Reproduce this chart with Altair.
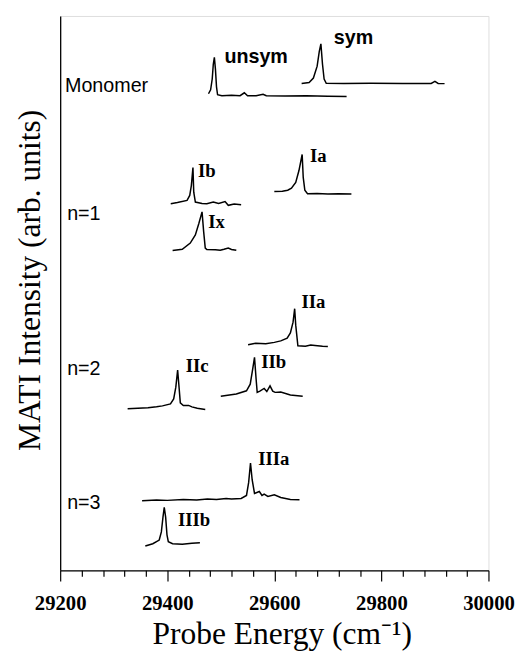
import altair as alt
import pandas as pd

# ---- spectra: (probe energy cm-1, intensity arb.) ----
mono_unsym_E = [29477, 29481, 29484, 29486, 29488, 29490, 29492, 29494, 29502, 29520, 29536, 29544, 29550, 29566, 29579, 29585, 29620, 29660, 29700, 29735]
mono_unsym_I = [484, 488, 499, 514, 521, 509, 491, 483, 482, 482.5, 482, 485, 482, 482, 483.5, 482, 481.8, 482, 481.5, 481.3]

mono_sym_E = [29651, 29665, 29673, 29680, 29684, 29687, 29690, 29693, 29697, 29730, 29780, 29840, 29893, 29900, 29906, 29918]
mono_sym_I = [494.5, 495.5, 500, 512, 527, 534.7, 514, 499, 494.7, 494.5, 494.7, 494.5, 494.5, 496.5, 494.5, 494.3]

Ia_E = [29600, 29615, 29625, 29632, 29640, 29646, 29652, 29654, 29657, 29662, 29680, 29700, 29720, 29744]
Ia_I = [384.7, 385, 386, 388, 394, 406, 422.3, 399, 386, 382.5, 382.8, 382.3, 382.5, 382.3]

Ib_E = [29406.5, 29419, 29437, 29442, 29445, 29448, 29449.5, 29452.5, 29465, 29474, 29486, 29496, 29508, 29514, 29525, 29538]
Ib_I = [372.3, 373.5, 375.7, 380.7, 390.7, 409, 384, 374, 372.5, 372.3, 374, 372.5, 374.5, 370.7, 372, 371.3]

Ix_E = [29410, 29428, 29443, 29452.5, 29459, 29465, 29468, 29471, 29474, 29490, 29499, 29506, 29514, 29520, 29529]
Ix_I = [324.7, 326, 332.3, 340.7, 352.3, 364, 344, 327.3, 325.7, 325.5, 325, 326, 327.3, 325.8, 325]

IIa_E = [29551, 29565, 29584, 29600, 29612, 29624, 29630, 29635, 29638, 29640, 29644, 29658, 29668, 29676, 29690, 29700]
IIa_I = [229, 230.5, 230, 231.5, 233, 235.7, 241, 252, 265.7, 249, 228, 227.5, 228.8, 228.3, 227.5, 227.3]

IIb_E = [29500, 29529, 29548, 29555, 29559.5, 29563, 29566, 29568, 29573, 29581, 29586, 29592, 29597, 29601.5, 29612, 29630, 29653]
IIb_I = [176.7, 179, 182.3, 189, 204, 216.3, 194, 180.7, 182, 184.7, 181.5, 187.3, 182, 180.7, 181, 178, 176.7]

IIc_E = [29326, 29345, 29364, 29380, 29391, 29406, 29412, 29416, 29419.4, 29421.6, 29424.4, 29430, 29440, 29446, 29456, 29471]
IIc_I = [164, 164.5, 165, 166, 167, 169, 174, 186, 203.3, 189, 170, 167.3, 167.5, 166, 164.5, 163.3]

IIIa_E = [29353, 29380, 29400, 29430, 29455, 29475, 29492, 29510, 29520, 29538, 29548, 29552, 29555.5, 29558.6, 29563, 29572, 29577, 29581, 29588, 29600, 29612, 29630, 29647]
IIIa_I = [70.7, 71.5, 71, 72, 71.5, 72.5, 72, 73, 72.5, 73, 76, 89, 109, 92, 78, 80, 76, 77.3, 75, 76.7, 74, 72, 71.7]

IIIb_E = [29359, 29373, 29385, 29389, 29392, 29394.4, 29397, 29399.5, 29402, 29410, 29428, 29446, 29461]
IIIb_I = [24.7, 27, 30.7, 39, 54, 64, 54, 36, 29, 27, 26.5, 27.5, 28]

traces = {
    "mono_unsym": (mono_unsym_E, mono_unsym_I),
    "mono_sym": (mono_sym_E, mono_sym_I),
    "Ia": (Ia_E, Ia_I),
    "Ib": (Ib_E, Ib_I),
    "Ix": (Ix_E, Ix_I),
    "IIa": (IIa_E, IIa_I),
    "IIb": (IIb_E, IIb_I),
    "IIc": (IIc_E, IIc_I),
    "IIIa": (IIIa_E, IIIa_I),
    "IIIb": (IIIb_E, IIIb_I),
}

# ---- labels ----
roman_text = ["Ia", "Ib", "Ix", "IIa", "IIb", "IIc", "IIIa", "IIIb"]
roman_E = [29682, 29474, 29492, 29673, 29599, 29456, 29599, 29450]
roman_I = [414.7, 399, 348, 266.7, 205.7, 201.3, 107.3, 45]

bold_sans_text = ["unsym", "sym"]
bold_sans_E = [29566, 29748]
bold_sans_I = [515.7, 535]

left_text = ["Monomer", "n=1", "n=2", "n=3"]
left_E = [29209, 29213, 29213, 29213]
left_I = [485.7, 355.7, 198, 62.3]

x_ticks = list(range(29200, 30001, 40))

rows = []
for name, (es, ins) in traces.items():
    for e, i in zip(es, ins):
        rows.append({"E": e, "I": i, "trace": name})
spec_df = pd.DataFrame(rows)

roman_df = pd.DataFrame({"E": roman_E, "I": roman_I, "t": roman_text})
bsans_df = pd.DataFrame({"E": bold_sans_E, "I": bold_sans_I, "t": bold_sans_text})
left_df = pd.DataFrame({"E": left_E, "I": left_I, "t": left_text})

xscale = alt.Scale(domain=[29200, 30000], nice=False, zero=False)
yscale = alt.Scale(domain=[0, 563], nice=False, zero=False)

x_axis = alt.Axis(
    values=x_ticks,
    format="d",
    labelExpr="datum.value % 200 === 0 ? datum.label : ''",
    tickSize=alt.condition("datum.value % 200 === 0", alt.value(11), alt.value(6)),
    tickColor="black",
    tickWidth=1.2,
    domainColor="black",
    domainWidth=1.3,
    grid=False,
    labelFont="Liberation Serif",
    labelFontWeight="bold",
    labelFontSize=21,
    labelColor="black",
    labelBaseline="alphabetic",
    labelPadding=29,
    labelFlush=False,
    labelOverlap=False,
    labelBound=False,
    title="Probe Energy (cm⁻¹)",
    titleFont="Liberation Serif",
    titleFontWeight="normal",
    titleFontSize=32,
    titleColor="black",
    titleX=225,
    titleY=74,
    titleBaseline="alphabetic",
    titleAlign="center",
)

y_axis = alt.Axis(
    ticks=False,
    labels=False,
    grid=False,
    domainColor="black",
    domainWidth=1.3,
    title="MATI Intensity (arb. units)",
    titleFont="Liberation Serif",
    titleFontWeight="normal",
    titleFontSize=32,
    titleColor="black",
    titleX=-21,
    titleY=268,
    titleAngle=270,
    titleBaseline="alphabetic",
    titleAlign="center",
)

X = alt.X("E:Q", scale=xscale, axis=x_axis)
Y = alt.Y("I:Q", scale=yscale, axis=y_axis)

lines = alt.Chart(spec_df).mark_line(color="black", strokeWidth=1.5).encode(
    x=X, y=Y, detail="trace:N",
)

roman = alt.Chart(roman_df).mark_text(
    font="Liberation Serif", fontWeight="bold", fontSize=19, color="black",
    align="center", baseline="alphabetic",
).encode(x=X, y=Y, text="t:N")

bsans = alt.Chart(bsans_df).mark_text(
    font="Liberation Sans", fontWeight="bold", fontSize=20, color="black",
    align="center", baseline="alphabetic",
).encode(x=X, y=Y, text="t:N")

left = alt.Chart(left_df).mark_text(
    font="Liberation Sans", fontSize=20, color="black",
    align="left", baseline="alphabetic",
).encode(x=X, y=Y, text="t:N")

chart = alt.layer(lines, roman, bsans, left).properties(
    width=435,
    height=563,
    autosize=alt.AutoSizeParams(type="none"),
    padding={"left": 53, "top": 3, "right": 30, "bottom": 85},
).configure_view(stroke="black", strokeWidth=1.3).configure_axis(
    labelOverlap=False
).configure(background="white")

chart.save("out.html", embed_options={"renderer": "svg", "actions": False})
